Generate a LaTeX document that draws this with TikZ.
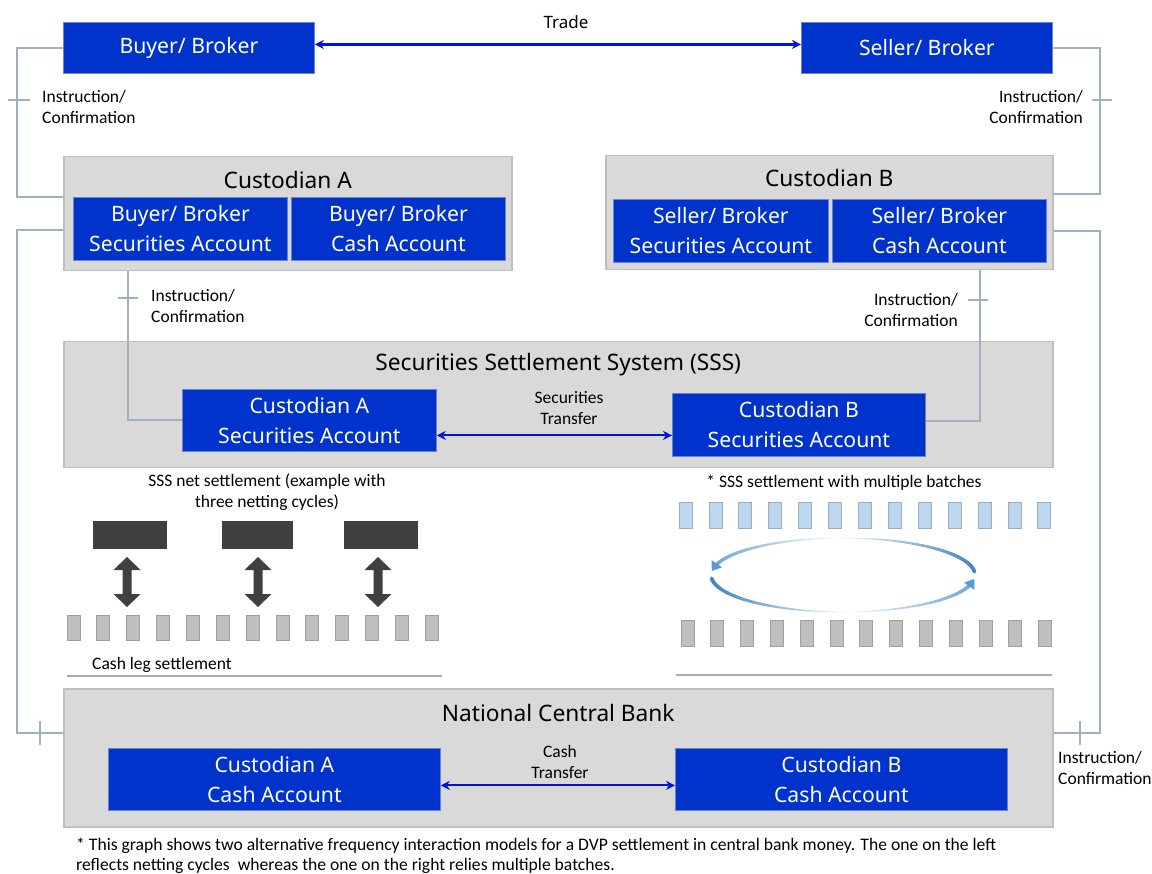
\documentclass[tikz,border=0pt]{standalone}
\usepackage{fontspec}
\setmainfont{Carlito}
\newfontfamily\seg{Noto Sans}
\usetikzlibrary{arrows.meta,calc}
\definecolor{boxblue}{RGB}{0,51,204}
\definecolor{boxedge}{RGB}{110,130,200}
\definecolor{arrblue}{RGB}{0,20,225}
\definecolor{panel}{RGB}{217,217,217}
\definecolor{panelline}{RGB}{190,190,190}
\definecolor{conncol}{RGB}{160,176,194}
\definecolor{darkg}{RGB}{64,64,64}
\definecolor{smallg}{RGB}{191,191,191}
\definecolor{smallgl}{RGB}{160,160,160}
\definecolor{lblue}{RGB}{189,215,238}
\definecolor{lbluel}{RGB}{150,175,200}
\definecolor{cyc1}{RGB}{46,117,182}
\definecolor{cyc2}{RGB}{91,155,213}
\definecolor{rulec}{RGB}{170,170,170}
\begin{document}
\begin{tikzpicture}[x=1pt,y=-1pt,
  bluebox/.style={draw=boxedge, line width=0.8pt, fill=boxblue, text=white,
    font=\seg\fontsize{21.2}{30}\selectfont, align=center, inner sep=0pt, anchor=north west},
  panelbox/.style={fill=panel, draw=panelline, line width=1.5pt, inner sep=0pt, anchor=north west},
  title/.style={font=\seg\fontsize{22.7}{26}\selectfont, inner sep=0pt},
  lbl/.style={font=\fontsize{17.5}{21}\selectfont, inner sep=0pt, align=left},
  conn/.style={draw=conncol, line width=2pt},
  xfer/.style={draw=arrblue, line width=2pt, {Stealth[length=9pt,width=9pt]}-{Stealth[length=9pt,width=9pt]}},
  smallrect/.style={fill=smallg, draw=smallgl, line width=0.8pt},
  bluerect/.style={fill=lblue, draw=lbluel, line width=0.8pt}
]
\fill[white] (0,0) rectangle (1152,874);
\useasboundingbox (0,0) rectangle (1152,874);

% panels
\node[panelbox, minimum width=448pt, minimum height=114pt] (custA) at (63,156) {};
\node[panelbox, minimum width=447pt, minimum height=114pt] (custB) at (605,155) {};
\node[panelbox, minimum width=989pt, minimum height=126pt] (sss) at (63,341) {};
\node[panelbox, minimum width=989pt, minimum height=138pt] (ncb) at (63,688) {};

\node[title] (custAt) at ($(custA.north)+(0,24)$) {Custodian A};
\node[title] (custBt) at ($(custB.north)+(0,23)$) {Custodian B};
\node[title] (ssst) at ($(sss.north)+(0,24)$) {Securities Settlement System (SSS)};
\node[title] (ncbt) at ($(ncb.north)+(0,25)$) {National Central Bank};

% blue boxes
\node[bluebox, minimum width=251pt, minimum height=51pt] (buyer) at (63,22) {Buyer/ Broker};
\node[bluebox, minimum width=251pt, minimum height=51pt] (seller) at (801,22) {Seller/ Broker};
\node[bluebox, minimum width=214pt, minimum height=63pt] (bsec) at (73,197) {Buyer/ Broker\\Securities Account};
\node[bluebox, minimum width=214pt, minimum height=63pt] (bcash) at (291,197) {Buyer/ Broker\\Cash Account};
\node[bluebox, minimum width=215pt, minimum height=63pt] (ssec) at (613,199) {Seller/ Broker\\Securities Account};
\node[bluebox, minimum width=214pt, minimum height=63pt] (scash) at (832,199) {Seller/ Broker\\Cash Account};
\node[bluebox, minimum width=254pt, minimum height=62pt] (secA) at (182,389) {Custodian A\\Securities Account};
\node[bluebox, minimum width=253pt, minimum height=63pt] (secB) at (672,393) {Custodian B\\Securities Account};
\node[bluebox, minimum width=332pt, minimum height=62pt] (cashA) at (108,748) {Custodian A\\Cash Account};
\node[bluebox, minimum width=332pt, minimum height=62pt] (cashB) at (675,748) {Custodian B\\Cash Account};

% connectors
\draw[conn] (buyer.west) -| (17,100) |- ($(custA.north west)+(0,41)$);
\draw[conn] (8,100) -- (30,100);
\draw[conn] (seller.east) -| (1100,100) |- ($(custB.north east)+(0,39)$);
\draw[conn] (1092,100) -- (1112,100);
\draw[conn] ($(custA.north west)+(0,74)$) -| (17,500) |- ($(ncb.north west)+(0,45)$);
\draw[conn] (40,721) -- (40,745);
\draw[conn] ($(custB.north east)+(0,76)$) -| (1100,500) |- ($(ncb.north east)+(0,45)$);
\draw[conn] (1080,721) -- (1080,745);
\draw[conn] ($(custA.south west)+(65,0)$) |- (secA.west);
\draw[conn] (118,298) -- (138,298);
\draw[conn] ($(custB.south east)+(-74,0)$) |- ($(secB.east)+(0,-4)$);
\draw[conn] (968,300) -- (988,300);

\node[lbl, anchor=west] (l1) at (42,106.5) {Instruction/\\Confirmation};
\node[lbl, anchor=east, align=right] (l2) at (1083,107) {Instruction/\\Confirmation};
\node[lbl, anchor=west] (l3) at (151,306) {Instruction/\\Confirmation};
\node[lbl, anchor=east, align=right] (l4) at (958,309.5) {Instruction/\\Confirmation};
\node[lbl, anchor=west] (l5) at (1058,767.5) {Instruction/\\Confirmation};

% transfer arrows
\coordinate (t1) at ($(buyer.east)+(0,-3.5)$);
\draw[xfer, line width=2.5pt] (t1) -- (t1 -| seller.west);
\node[font=\seg\fontsize{17}{20}\selectfont, inner sep=0pt] (trade) at (566,22) {Trade};
\coordinate (s1) at ($(secA.east)+(0,15)$);
\draw[xfer] (s1) -- (s1 -| secB.west);
\node[lbl, align=center] (stl) at (569,408.5) {Securities\\Transfer};
\coordinate (c1) at ($(cashA.east)+(0,6)$);
\draw[xfer] (c1) -- (c1 -| cashB.west);
\node[lbl, align=center] (ctl) at (560,761.5) {Cash\\Transfer};

% left: netting cycles
\node[lbl, align=center] (nett) at (267,492.5) {SSS net settlement (example with\\three netting cycles)};
\fill[darkg] (93,521) rectangle (167,549);
\fill[darkg] (222,521) rectangle (293,549);
\fill[darkg] (344,521) rectangle (418,549);
\foreach \cx in {127,258,378}{
  \fill[darkg] (\cx,557) -- ++(13.5,13) -- ++(-9,0) -- ++(0,24) -- ++(9,0) -- (\cx,607)
    -- ++(-13.5,-13) -- ++(9,0) -- ++(0,-24) -- ++(-9,0) -- cycle;
}
\foreach \i in {0,...,12}{
  \draw[smallrect] ({67+29.85*\i},615) rectangle ++(13,25);
}
\node[lbl, anchor=west] (cls) at (92,665) {Cash leg settlement};
\draw[rulec, line width=2pt] (67,676) -- (442,676);

% right: multiple batches
\node[lbl] (mbt) at (844,483) {* SSS settlement with multiple batches};
\foreach \i in {0,...,12}{
  \draw[bluerect] ({679+29.9*\i},502) rectangle ++(13,26);
  \draw[smallrect] ({681+29.8*\i},620) rectangle ++(13,26);
}
\draw[rulec, line width=2pt] (676,675) -- (1052,675);

% cycle arrows
\foreach \t in {5,8,...,164}{
  \pgfmathsetmacro{\w}{0.5+3.2*abs(cos(\t))}
  \pgfmathtruncatemacro{\k}{5+85*abs(cos(\t))}
  \ifnum\t<90 \colorlet{segc}{cyc1!\k!white}\else\colorlet{segc}{cyc2!\k!white}\fi
  \draw[segc, line width=\w pt, line cap=round]
    ({843+132*cos(\t)},{575-37*sin(\t)}) -- ({843+132*cos(\t+3.2)},{575-37*sin(\t+3.2)});
}
\foreach \t in {185,188,...,344}{
  \pgfmathsetmacro{\w}{0.5+3.2*abs(cos(\t))}
  \pgfmathtruncatemacro{\k}{5+85*abs(cos(\t))}
  \ifnum\t<270 \colorlet{segc}{cyc1!\k!white}\else\colorlet{segc}{cyc2!\k!white}\fi
  \draw[segc, line width=\w pt, line cap=round]
    ({843+132*cos(\t)},{575-37*sin(\t)}) -- ({843+132*cos(\t+3.2)},{575-37*sin(\t+3.2)});
}
\draw[cyc2, line width=3pt, -{Triangle[length=9pt,width=12pt]}]
  ({843+132*cos(164)},{575-37*sin(164)}) -- ({843+132*cos(174)},{575-37*sin(174)});
\draw[cyc2, line width=3pt, -{Triangle[length=9pt,width=12pt]}]
  ({843+132*cos(344)},{575-37*sin(344)}) -- ({843+132*cos(354)},{575-37*sin(354)});

% footnote
\node[font=\fontsize{17.6}{20}\selectfont, inner sep=0pt, align=left, anchor=west] (foot) at (76,856)
  {* This graph shows two alternative frequency interaction models for a DVP settlement in central bank money. The one on the left\\
   reflects netting cycles\ \ whereas the one on the right relies multiple batches.};
\end{tikzpicture}
\end{document}
